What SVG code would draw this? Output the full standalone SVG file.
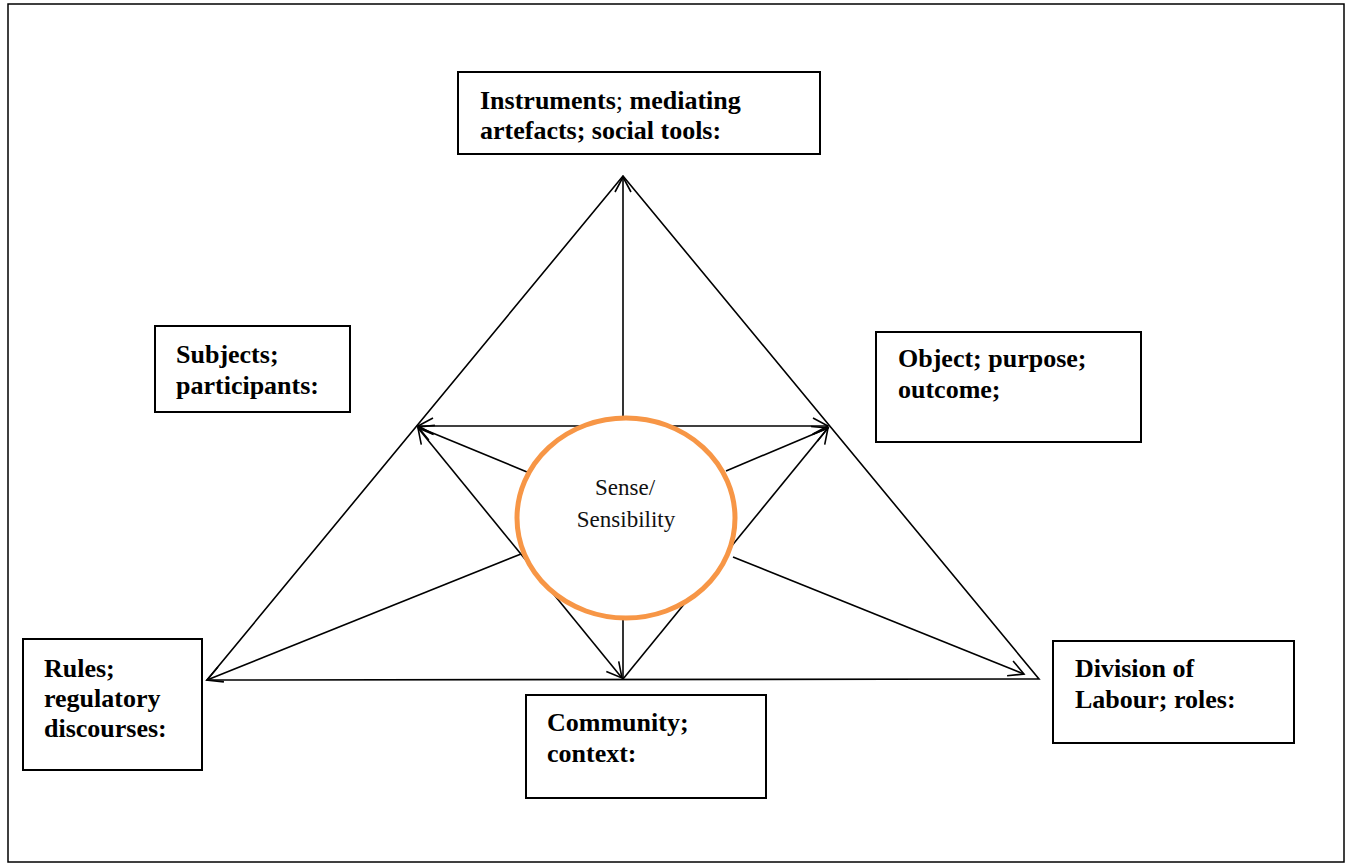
<svg xmlns="http://www.w3.org/2000/svg" width="1352" height="866" viewBox="0 0 1352 866">
<defs>
<style>
.box{fill:#fff;stroke:#000;stroke-width:2}
.lbl{font-family:"Liberation Serif","Times New Roman",serif;font-weight:bold;font-size:26px;fill:#000}
.nb{font-weight:normal}
.ln{stroke:#000;stroke-width:1.6;fill:none}
.ctr{font-family:"Liberation Serif","Times New Roman",serif;font-size:23px;fill:#111;text-anchor:middle}
</style>
<marker id="ah" viewBox="-17 -10 19 20" refX="0" refY="0" markerWidth="19" markerHeight="20" markerUnits="userSpaceOnUse" orient="auto-start-reverse">
<path d="M-15,-8 L0,0 L-15,8" fill="none" stroke="#000" stroke-width="1.6"/>
</marker>
</defs>
<rect x="0" y="0" width="1352" height="866" fill="#fff"/>
<rect x="8" y="4" width="1336" height="858" fill="none" stroke="#000" stroke-width="1.5"/>
<g id="connectors">
<polygon class="ln" points="623,176 207,680 1039,679"/>
<line class="ln" x1="623" y1="470" x2="623" y2="177" marker-end="url(#ah)"/>
<line class="ln" x1="623" y1="426" x2="418" y2="426" marker-end="url(#ah)"/>
<line class="ln" x1="623" y1="426" x2="828" y2="426" marker-end="url(#ah)"/>
<line class="ln" x1="527" y1="472" x2="418" y2="427" marker-end="url(#ah)"/>
<line class="ln" x1="726" y1="471" x2="828" y2="428" marker-end="url(#ah)"/>
<line class="ln" x1="418" y1="428" x2="622" y2="678" marker-start="url(#ah)" marker-end="url(#ah)"/>
<line class="ln" x1="623" y1="679" x2="828" y2="428" marker-end="url(#ah)"/>
<line class="ln" x1="521" y1="554" x2="207" y2="680" marker-end="url(#ah)"/>
<line class="ln" x1="733" y1="557" x2="1024" y2="674" marker-end="url(#ah)"/>
<line class="ln" x1="623" y1="600" x2="623" y2="679"/>
</g>
<g id="sense">
<ellipse cx="626" cy="518" rx="109" ry="100" fill="#fff" stroke="#F79646" stroke-width="5"/>
<text class="ctr" x="625" y="495">Sense/</text>
<text class="ctr" x="626" y="527">Sensibility</text>
</g>
<g id="instruments">
<rect class="box" x="458" y="72" width="362" height="82"/>
<text class="lbl" x="480" y="109">Instruments<tspan class="nb">;</tspan> mediating</text>
<text class="lbl" x="480" y="139">artefacts; social tools:</text>
</g>
<g id="subjects">
<rect class="box" x="155" y="326" width="195" height="86"/>
<text class="lbl" x="176" y="363">Subjects;</text>
<text class="lbl" x="176" y="394">participants:</text>
</g>
<g id="object">
<rect class="box" x="876" y="332" width="265" height="110"/>
<text class="lbl" x="898" y="367">Object; purpose;</text>
<text class="lbl" x="898" y="398">outcome;</text>
</g>
<g id="rules">
<rect class="box" x="23" y="639" width="179" height="131"/>
<text class="lbl" x="44" y="677">Rules;</text>
<text class="lbl" x="44" y="707">regulatory</text>
<text class="lbl" x="44" y="737">discourses:</text>
</g>
<g id="community">
<rect class="box" x="526" y="695" width="240" height="103"/>
<text class="lbl" x="547" y="731">Community;</text>
<text class="lbl" x="547" y="762">context:</text>
</g>
<g id="division">
<rect class="box" x="1053" y="641" width="241" height="102"/>
<text class="lbl" x="1075" y="677">Division of</text>
<text class="lbl" x="1075" y="708">Labour; roles:</text>
</g>
</svg>
